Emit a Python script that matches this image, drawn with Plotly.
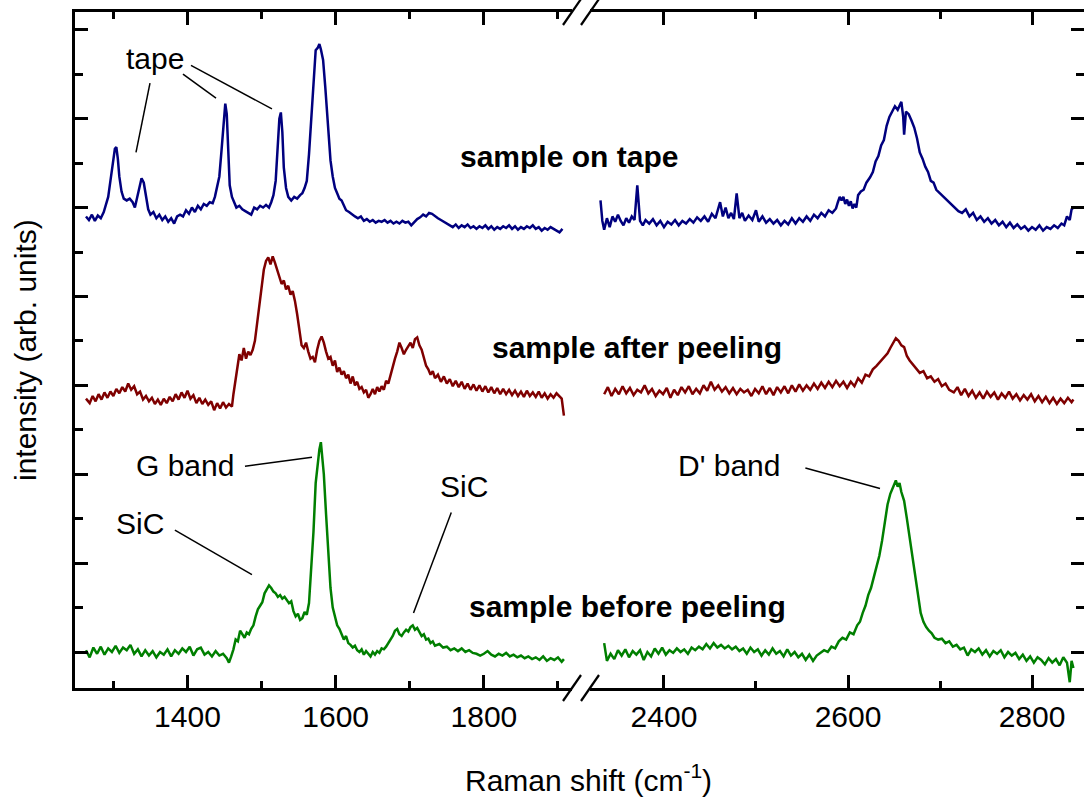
import plotly.graph_objects as go

# ---------------- data (Raman shift cm-1, intensity arb. units) ----------------
before_left = [
(1263,0.02),(1268,-0.06),(1273,0.05),(1278,-0.02),(1283,0.06),(1288,-0.03),(1293,0.04),(1298,0.0),
(1303,0.07),(1308,-0.01),(1313,0.05),(1318,0.02),(1323,0.08),(1328,-0.02),(1333,0.03),(1338,-0.05),
(1343,0.02),(1348,-0.04),(1353,0.01),(1358,-0.06),(1363,0.0),(1368,-0.03),(1373,0.03),(1378,-0.05),
(1383,0.02),(1388,-0.02),(1393,0.04),(1398,0.0),(1403,0.06),(1408,-0.04),(1413,0.03),(1418,0.05),
(1423,-0.03),(1428,0.0),(1433,-0.05),(1438,0.01),(1443,-0.04),(1448,-0.02),(1453,-0.07),(1456,-0.12),
(1459,-0.05),(1462,0.03),(1465,0.14),(1468,0.12),(1471,0.24),(1474,0.20),(1477,0.16),(1480,0.22),
(1483,0.20),(1486,0.26),(1489,0.30),(1492,0.40),(1495,0.48),(1498,0.52),(1501,0.56),(1504,0.66),
(1507,0.70),(1510,0.75),(1513,0.72),(1516,0.68),(1519,0.66),(1522,0.62),(1525,0.64),(1528,0.60),
(1531,0.62),(1534,0.58),(1537,0.55),(1540,0.57),(1543,0.46),(1546,0.40),(1549,0.43),(1552,0.36),
(1555,0.38),(1558,0.45),(1561,0.42),(1564,0.55),(1567,0.95),(1570,1.35),(1573,1.90),(1576,2.15),
(1578,2.28),(1580,2.36),(1582,2.20),(1584,2.00),(1587,1.55),(1590,1.10),(1593,0.72),(1596,0.50),
(1599,0.38),(1602,0.30),(1605,0.26),(1608,0.20),(1611,0.14),(1614,0.18),(1617,0.10),(1620,0.08),
(1623,0.05),(1626,0.07),(1629,0.02),(1632,0.0),(1635,0.03),(1638,-0.03),(1641,0.01),(1644,-0.02),
(1647,-0.05),(1650,0.0),(1653,-0.03),(1656,0.01),(1659,-0.01),(1662,0.04),(1665,0.03),(1668,0.06),
(1671,0.10),(1674,0.14),(1677,0.18),(1680,0.24),(1683,0.26),(1686,0.20),(1689,0.18),(1692,0.22),
(1695,0.25),(1698,0.23),(1701,0.28),(1704,0.30),(1707,0.25),(1710,0.27),(1713,0.22),(1716,0.18),
(1719,0.20),(1722,0.14),(1725,0.15),(1728,0.10),(1731,0.12),(1734,0.07),(1740,0.09),(1745,0.05),
(1750,0.06),(1755,0.02),(1760,0.04),(1765,0.01),(1770,0.04),(1775,0.0),(1780,0.02),(1785,-0.01),
(1790,-0.02),(1795,-0.04),(1800,-0.02),(1805,0.01),(1810,-0.03),(1815,-0.05),(1820,-0.02),(1825,-0.04),
(1830,-0.01),(1835,-0.05),(1840,-0.03),(1845,-0.06),(1850,-0.04),(1855,-0.07),(1860,-0.05),(1865,-0.08),
(1870,-0.06),(1875,-0.09),(1880,-0.05),(1885,-0.10),(1890,-0.07),(1895,-0.09),(1900,-0.06),(1905,-0.11),
(1908,-0.08),
]
before_right = [
(2335,0.10),(2338,-0.10),(2342,-0.02),(2346,-0.08),(2350,0.02),(2354,-0.04),(2358,0.03),(2362,-0.06),
(2366,0.01),(2370,-0.03),(2374,0.02),(2378,-0.09),(2382,0.0),(2386,-0.05),(2390,0.04),(2394,-0.02),
(2398,0.05),(2402,-0.03),(2406,0.02),(2410,-0.01),(2414,0.04),(2418,0.0),(2422,0.03),(2426,-0.02),
(2430,0.05),(2434,0.02),(2438,0.06),(2442,0.03),(2446,0.09),(2450,0.04),(2454,0.10),(2458,0.05),
(2462,0.08),(2466,0.04),(2470,0.07),(2474,0.03),(2478,0.06),(2482,0.01),(2486,0.04),(2490,-0.02),
(2494,0.05),(2498,0.0),(2502,0.03),(2506,-0.04),(2510,0.02),(2514,-0.03),(2518,0.04),(2522,-0.02),
(2526,0.01),(2530,-0.05),(2534,0.03),(2538,-0.04),(2542,0.0),(2546,-0.06),(2550,-0.02),(2554,-0.09),
(2558,-0.03),(2562,-0.10),(2566,-0.04),(2570,-0.01),(2574,0.02),(2578,0.0),(2582,0.06),(2586,0.04),
(2590,0.12),(2594,0.16),(2598,0.14),(2602,0.22),(2606,0.20),(2610,0.30),(2613,0.34),(2616,0.44),
(2619,0.52),(2622,0.64),(2625,0.72),(2628,0.84),(2631,0.95),(2634,1.08),(2637,1.25),(2640,1.45),
(2643,1.66),(2646,1.78),(2649,1.85),(2652,1.93),(2654,1.86),(2656,1.90),(2658,1.80),(2661,1.70),
(2664,1.50),(2667,1.28),(2670,1.05),(2673,0.82),(2676,0.64),(2679,0.44),(2682,0.34),(2685,0.28),
(2688,0.24),(2691,0.21),(2694,0.16),(2698,0.14),(2702,0.15),(2706,0.10),(2710,0.12),(2714,0.06),
(2718,0.08),(2722,0.03),(2726,0.05),(2730,-0.04),(2734,0.03),(2738,0.0),(2742,0.04),(2746,-0.03),
(2750,0.02),(2754,-0.05),(2758,0.01),(2762,-0.02),(2766,0.02),(2770,-0.06),(2774,0.0),(2778,-0.04),
(2782,-0.01),(2786,-0.08),(2790,-0.03),(2794,-0.10),(2798,-0.05),(2802,-0.12),(2806,-0.06),(2810,-0.09),
(2814,-0.14),(2818,-0.07),(2822,-0.12),(2826,-0.08),(2830,-0.15),(2834,-0.06),(2838,-0.12),(2841,-0.34),
(2843,-0.10),(2845,-0.18),
]
after_left = [
(1263,2.85),(1268,2.80),(1272,2.88),(1276,2.82),(1280,2.90),(1284,2.84),(1288,2.92),(1292,2.86),
(1296,2.93),(1300,2.88),(1304,2.96),(1308,2.91),(1312,2.98),(1316,2.93),(1320,3.02),(1324,2.95),
(1328,2.99),(1332,2.90),(1336,2.93),(1340,2.84),(1344,2.88),(1348,2.82),(1352,2.86),(1356,2.79),
(1360,2.84),(1364,2.78),(1368,2.85),(1372,2.80),(1376,2.87),(1380,2.82),(1384,2.90),(1388,2.84),
(1392,2.92),(1396,2.86),(1400,2.94),(1404,2.85),(1408,2.89),(1412,2.80),(1416,2.86),(1420,2.79),
(1424,2.84),(1428,2.78),(1432,2.82),(1436,2.72),(1440,2.80),(1444,2.74),(1448,2.81),(1452,2.75),
(1456,2.79),(1460,2.76),(1462,2.90),(1464,3.02),(1467,3.20),(1470,3.35),(1473,3.28),(1476,3.42),
(1479,3.30),(1482,3.38),(1485,3.34),(1488,3.40),(1491,3.50),(1494,3.70),(1497,3.88),(1500,4.10),
(1503,4.30),(1506,4.40),(1509,4.44),(1512,4.36),(1515,4.45),(1518,4.38),(1521,4.30),(1524,4.22),
(1527,4.14),(1530,4.18),(1533,4.08),(1536,4.12),(1539,4.02),(1542,4.06),(1545,3.95),(1548,3.80),
(1551,3.62),(1554,3.45),(1557,3.42),(1560,3.48),(1563,3.38),(1566,3.30),(1569,3.32),(1572,3.26),
(1575,3.40),(1578,3.50),(1581,3.55),(1584,3.48),(1587,3.38),(1590,3.30),(1593,3.32),(1596,3.22),
(1599,3.28),(1602,3.15),(1605,3.20),(1608,3.12),(1611,3.16),(1614,3.08),(1617,3.12),(1620,3.02),
(1623,3.10),(1626,3.00),(1629,3.04),(1632,2.96),(1635,2.98),(1638,2.92),(1641,2.95),(1644,2.86),
(1647,2.90),(1650,2.96),(1653,2.90),(1656,2.98),(1659,2.93),(1662,2.99),(1665,2.95),(1668,3.05),
(1671,3.02),(1674,3.12),(1677,3.20),(1680,3.30),(1683,3.38),(1686,3.48),(1689,3.42),(1692,3.35),
(1695,3.40),(1698,3.44),(1701,3.48),(1704,3.42),(1707,3.52),(1710,3.54),(1713,3.45),(1716,3.40),
(1719,3.30),(1722,3.22),(1725,3.18),(1728,3.12),(1731,3.16),(1734,3.08),(1738,3.12),(1742,3.04),
(1746,3.10),(1750,3.02),(1754,3.07),(1758,2.99),(1762,3.05),(1766,2.98),(1770,3.04),(1774,2.96),
(1778,3.02),(1782,2.95),(1786,3.01),(1790,2.94),(1794,3.00),(1798,2.93),(1802,2.99),(1806,2.92),
(1810,2.98),(1814,2.91),(1818,2.97),(1822,2.90),(1826,2.96),(1830,2.90),(1834,2.95),(1838,2.89),
(1842,2.94),(1846,2.88),(1850,2.93),(1854,2.87),(1858,2.94),(1862,2.88),(1866,2.92),(1870,2.87),
(1874,2.93),(1878,2.86),(1882,2.91),(1886,2.85),(1890,2.90),(1894,2.86),(1898,2.91),(1902,2.88),
(1905,2.85),(1908,2.66),
]
after_right = [
(2335,2.90),(2339,2.98),(2343,2.88),(2347,2.96),(2351,2.90),(2355,2.99),(2359,2.91),(2363,2.97),
(2367,2.89),(2371,2.95),(2375,2.92),(2379,3.00),(2383,2.91),(2387,2.96),(2391,2.88),(2395,2.94),
(2399,2.90),(2403,2.97),(2407,2.86),(2411,2.95),(2415,2.89),(2419,2.98),(2423,2.92),(2427,2.99),
(2431,2.90),(2435,2.96),(2439,2.91),(2443,3.00),(2447,2.94),(2451,3.04),(2455,2.95),(2459,3.00),
(2463,2.93),(2467,2.98),(2471,2.91),(2475,2.97),(2479,2.90),(2483,2.96),(2487,2.92),(2491,2.95),
(2495,2.88),(2499,2.96),(2503,2.91),(2507,2.99),(2511,2.90),(2515,2.97),(2519,2.89),(2523,2.98),
(2527,2.92),(2531,2.99),(2535,2.91),(2539,3.00),(2543,2.93),(2547,3.01),(2551,2.94),(2555,3.00),
(2559,2.95),(2563,3.02),(2567,2.96),(2571,3.03),(2575,2.97),(2579,3.04),(2583,2.98),(2587,3.05),
(2591,2.99),(2595,3.04),(2599,2.97),(2603,3.04),(2607,2.99),(2611,3.08),(2615,3.03),(2619,3.12),
(2623,3.10),(2627,3.18),(2631,3.22),(2635,3.27),(2639,3.32),(2643,3.36),(2646,3.42),(2649,3.48),
(2652,3.53),(2655,3.50),(2658,3.45),(2661,3.43),(2664,3.33),(2667,3.28),(2670,3.24),(2674,3.18),
(2678,3.14),(2682,3.16),(2686,3.08),(2690,3.10),(2694,3.04),(2698,3.07),(2702,2.99),(2706,3.02),
(2710,2.95),(2715,2.92),(2719,2.98),(2723,2.89),(2727,2.96),(2731,2.88),(2735,2.94),(2739,2.86),
(2743,2.92),(2747,2.85),(2751,2.93),(2755,2.87),(2759,2.92),(2763,2.84),(2767,2.91),(2771,2.86),
(2775,2.93),(2779,2.85),(2783,2.90),(2787,2.83),(2791,2.89),(2795,2.84),(2799,2.90),(2803,2.82),
(2807,2.88),(2811,2.81),(2815,2.87),(2819,2.80),(2823,2.86),(2827,2.79),(2831,2.85),(2835,2.80),
(2839,2.86),(2843,2.81),(2845,2.84),
]
tape_left = [
(1263,4.90),(1267,4.86),(1271,4.92),(1275,4.85),(1279,4.91),(1283,4.88),(1287,4.95),(1290,5.05),
(1293,5.12),(1296,5.30),(1299,5.50),(1302,5.66),(1304,5.68),(1306,5.55),(1308,5.35),(1311,5.18),
(1314,5.10),(1318,5.08),(1322,5.10),(1326,5.06),(1329,5.00),(1332,5.12),(1335,5.22),(1338,5.33),
(1341,5.28),(1344,5.10),(1347,4.98),(1350,4.92),(1354,4.95),(1358,4.88),(1362,4.92),(1366,4.86),
(1370,4.90),(1374,4.84),(1378,4.88),(1382,4.82),(1386,4.90),(1390,4.92),(1394,4.90),(1398,4.97),
(1402,4.93),(1406,5.00),(1410,4.95),(1414,5.02),(1418,4.98),(1422,5.04),(1426,5.02),(1430,5.06),
(1434,5.05),(1437,5.12),(1440,5.22),(1443,5.35),(1446,5.65),(1449,6.00),(1451,6.17),(1453,6.05),
(1455,5.60),(1457,5.25),(1460,5.12),(1463,5.06),(1466,5.00),(1470,5.02),(1474,4.98),(1478,4.96),
(1482,4.94),(1486,4.92),(1490,5.00),(1494,4.98),(1498,5.02),(1502,5.00),(1506,5.03),(1510,5.00),
(1513,5.06),(1516,5.14),(1519,5.30),(1522,5.70),(1524,6.00),(1526,6.07),(1528,5.85),(1530,5.45),
(1533,5.22),(1536,5.12),(1540,5.08),(1544,5.12),(1548,5.10),(1552,5.14),(1555,5.16),(1558,5.22),
(1561,5.30),(1564,5.60),(1567,6.00),(1570,6.40),(1573,6.77),(1576,6.80),(1578,6.84),(1580,6.78),
(1583,6.66),(1586,6.35),(1588,6.10),(1591,5.80),(1593,5.53),(1596,5.35),(1599,5.22),(1602,5.16),
(1605,5.10),(1608,5.08),(1611,5.02),(1614,4.97),(1618,4.95),(1622,4.92),(1626,4.90),(1630,4.88),
(1634,4.90),(1638,4.85),(1642,4.87),(1646,4.84),(1650,4.86),(1654,4.83),(1658,4.85),(1662,4.84),
(1666,4.86),(1670,4.83),(1674,4.85),(1678,4.82),(1682,4.84),(1686,4.82),(1690,4.85),(1694,4.83),
(1698,4.84),(1702,4.80),(1706,4.84),(1710,4.87),(1714,4.89),(1718,4.92),(1722,4.90),(1726,4.94),
(1730,4.93),(1734,4.90),(1738,4.88),(1742,4.86),(1746,4.84),(1750,4.82),(1754,4.80),(1758,4.78),
(1762,4.81),(1766,4.77),(1770,4.80),(1774,4.78),(1778,4.81),(1782,4.77),(1786,4.79),(1790,4.76),
(1794,4.79),(1798,4.77),(1802,4.80),(1806,4.76),(1810,4.79),(1814,4.75),(1818,4.78),(1822,4.76),
(1826,4.79),(1830,4.77),(1834,4.80),(1838,4.76),(1842,4.79),(1846,4.75),(1850,4.78),(1854,4.76),
(1858,4.79),(1862,4.77),(1866,4.80),(1870,4.76),(1874,4.78),(1878,4.74),(1882,4.77),(1886,4.75),
(1890,4.78),(1894,4.76),(1898,4.74),(1902,4.72),(1906,4.76),
]
tape_right = [
(2331,5.08),(2333,4.85),(2335,4.75),(2338,4.88),(2341,4.78),(2344,4.90),(2347,4.84),(2350,4.92),
(2353,4.85),(2356,4.80),(2359,4.88),(2362,4.83),(2365,4.90),(2368,4.86),(2371,5.25),(2374,4.85),
(2377,4.80),(2380,4.86),(2384,4.82),(2388,4.87),(2392,4.80),(2396,4.85),(2400,4.78),(2404,4.84),
(2408,4.81),(2412,4.86),(2416,4.80),(2420,4.85),(2424,4.82),(2428,4.87),(2432,4.83),(2436,4.89),
(2440,4.85),(2444,4.90),(2448,4.84),(2452,4.93),(2456,4.88),(2459,4.98),(2461,5.06),(2464,4.90),
(2467,5.00),(2470,4.88),(2473,4.94),(2476,4.87),(2479,5.16),(2482,4.88),(2485,4.94),(2488,4.85),
(2492,4.91),(2496,4.86),(2500,4.97),(2503,4.84),(2507,4.90),(2511,4.83),(2515,4.87),(2519,4.82),
(2523,4.86),(2527,4.80),(2531,4.85),(2535,4.81),(2539,4.88),(2543,4.82),(2547,4.88),(2551,4.84),
(2555,4.90),(2559,4.85),(2563,4.92),(2567,4.88),(2571,4.94),(2575,4.90),(2579,4.97),(2583,4.94),
(2587,4.99),(2589,5.06),(2591,5.12),(2593,5.08),(2595,5.12),(2597,5.04),(2599,5.09),(2601,5.02),
(2603,5.07),(2605,4.99),(2607,5.04),(2609,5.00),(2611,5.14),(2614,5.18),(2617,5.20),(2620,5.28),
(2624,5.34),(2627,5.40),(2630,5.52),(2633,5.58),(2636,5.70),(2639,5.76),(2642,5.92),(2645,6.02),
(2648,6.08),(2651,6.14),(2654,6.10),(2656,6.15),(2658,6.19),(2660,6.02),(2661,5.82),(2663,6.08),
(2666,6.05),(2669,5.98),(2672,5.90),(2675,5.78),(2678,5.62),(2681,5.55),(2684,5.46),(2687,5.40),
(2690,5.30),(2693,5.28),(2696,5.20),(2700,5.16),(2704,5.12),(2708,5.08),(2712,5.04),(2716,5.00),
(2720,4.96),(2724,4.94),(2728,4.98),(2732,4.90),(2736,4.94),(2740,4.86),(2744,4.90),(2748,4.84),
(2752,4.88),(2756,4.82),(2760,4.86),(2764,4.80),(2768,4.84),(2772,4.78),(2776,4.83),(2780,4.77),
(2784,4.81),(2788,4.76),(2792,4.79),(2796,4.74),(2800,4.78),(2804,4.75),(2808,4.80),(2812,4.74),
(2816,4.78),(2820,4.76),(2824,4.80),(2828,4.77),(2832,4.82),(2835,4.80),(2838,4.90),(2841,4.86),
(2843,4.98),(2845,5.00),
]

x_left_ticks = [1400, 1600, 1800]
x_right_ticks = [2400, 2600, 2800]

BLUE = "#00007f"
RED = "#7f0000"
GREEN = "#007f00"
FONT = "Liberation Sans, Arial, sans-serif"

# ---------------- figure ----------------
W, H = 1084, 801
ML, MR, MT, MB = 75, 0, 12, 113
PW, PH = W - ML - MR, H - MT - MB
LEFT_END = (572 - ML) / PW
RIGHT_START = (590 - ML) / PW

fig = go.Figure()

def add(series, color, xa, ya):
    fig.add_trace(go.Scatter(
        x=[p[0] for p in series], y=[p[1] for p in series],
        mode="lines", line=dict(color=color, width=2.5),
        xaxis=xa, yaxis=ya, showlegend=False, hoverinfo="skip"))

add(tape_left, BLUE, "x", "y")
add(after_left, RED, "x", "y")
add(before_left, GREEN, "x", "y")
add(tape_right, BLUE, "x2", "y2")
add(after_right, RED, "x2", "y2")
add(before_right, GREEN, "x2", "y2")

axis_common = dict(
    showline=True, linecolor="black", linewidth=2.5,
    ticks="inside", ticklen=13, tickwidth=2.5, tickcolor="black",
    showgrid=False, zeroline=False,
    tickfont=dict(family=FONT, size=30, color="black"),
)

fig.update_layout(
    width=W, height=H,
    margin=dict(l=ML, r=MR, t=MT, b=MB),
    plot_bgcolor="white", paper_bgcolor="white",
    xaxis=dict(domain=[0, LEFT_END], range=[1248.2, 1918.9], anchor="y",
               tickmode="array", tickvals=x_left_ticks, mirror="ticks",
               minor=dict(ticks="inside", ticklen=7, tickwidth=2.5, tickcolor="black",
                          tick0=1300, dtick=100, showgrid=False),
               **axis_common),
    xaxis2=dict(domain=[RIGHT_START, 1], range=[2319.6, 2856.5], anchor="y2",
                tickmode="array", tickvals=x_right_ticks, mirror="ticks",
                minor=dict(ticks="inside", ticklen=7, tickwidth=2.5, tickcolor="black",
                           tick0=2300, dtick=100, showgrid=False),
                **axis_common),
    yaxis=dict(domain=[0, 1], range=[-0.405, 7.2], anchor="x",
               tick0=0, dtick=1, showticklabels=False,
               minor=dict(ticks="inside", ticklen=8, tickwidth=2.5, tickcolor="black",
                          tick0=0.5, dtick=1, showgrid=False),
               **axis_common),
    yaxis2=dict(domain=[0, 1], range=[-0.405, 7.2], anchor="x2", side="right",
                matches="y", tick0=0, dtick=1, showticklabels=False,
                minor=dict(ticks="inside", ticklen=8, tickwidth=2.5, tickcolor="black",
                           tick0=0.5, dtick=1, showgrid=False),
                **axis_common),
)

# axis break marks (paper coords)
def px2paper(px, py):
    return (px - ML) / PW, (H - MB - py) / PH

for (x0, y0, x1, y1) in [(563, 701, 581, 675), (581, 701, 599, 675),
                         (563, 25, 581, -1), (581, 25, 599, -1)]:
    a = px2paper(x0, y0); b = px2paper(x1, y1)
    fig.add_shape(type="line", xref="paper", yref="paper",
                  x0=a[0], y0=a[1], x1=b[0], y1=b[1],
                  line=dict(color="black", width=2.2))

# annotation pointer lines (data coords)
pointer_lines = [
    ("x", 1349.4, 6.40, 1330.5, 5.62),
    ("x", 1393.9, 6.50, 1438.5, 6.23),
    ("x", 1404.7, 6.60, 1514.0, 6.11),
    ("x", 1477.6, 2.09, 1568.0, 2.19),
    ("x", 1383.0, 1.37, 1487.0, 0.87),
    ("x", 1756.0, 1.57, 1705.0, 0.44),
    ("x2", 2553.7, 2.07, 2634.8, 1.84),
]
for xr, x0, y0, x1, y1 in pointer_lines:
    fig.add_shape(type="line", xref=xr, yref="y", x0=x0, y0=y0, x1=x1, y1=y1,
                  line=dict(color="black", width=1.5))

labels = [
    ("x", 1356, 6.68, "tape"),
    ("x", 1396.6, 2.10, "G band"),
    ("x", 1336, 1.45, "SiC"),
    ("x", 1773, 1.86, "SiC"),
    ("x2", 2471, 2.10, "D' band"),
]
for xr, x, y, t in labels:
    fig.add_annotation(xref=xr, yref="y", x=x, y=y, text=t, showarrow=False,
                       xanchor="center", yanchor="middle",
                       font=dict(family=FONT, size=30, color="black"))

bold_labels = [
    ("x", 1915, 5.57, "sample on tape"),
    ("x2", 2370.7, 3.43, "sample after peeling"),
    ("x2", 2360, 0.51, "sample before peeling"),
]
for xr, x, y, t in bold_labels:
    fig.add_annotation(xref=xr, yref="y", x=x, y=y, text="<b>" + t + "</b>",
                       showarrow=False, xanchor="center", yanchor="middle",
                       font=dict(family=FONT, size=30, color="black"))

# axis titles
tx, ty = px2paper(588, 778)
fig.add_annotation(xref="paper", yref="paper", x=tx, y=ty,
                   text="Raman shift (cm<sup>-1</sup>)", showarrow=False,
                   xanchor="center", yanchor="middle",
                   font=dict(family=FONT, size=30, color="black"))
yx, yy = px2paper(25, 350)
fig.add_annotation(xref="paper", yref="paper", x=yx, y=yy,
                   text="intensity (arb. units)", showarrow=False, textangle=-90,
                   xanchor="center", yanchor="middle",
                   font=dict(family=FONT, size=30, color="black"))

fig.write_html("out.html")
